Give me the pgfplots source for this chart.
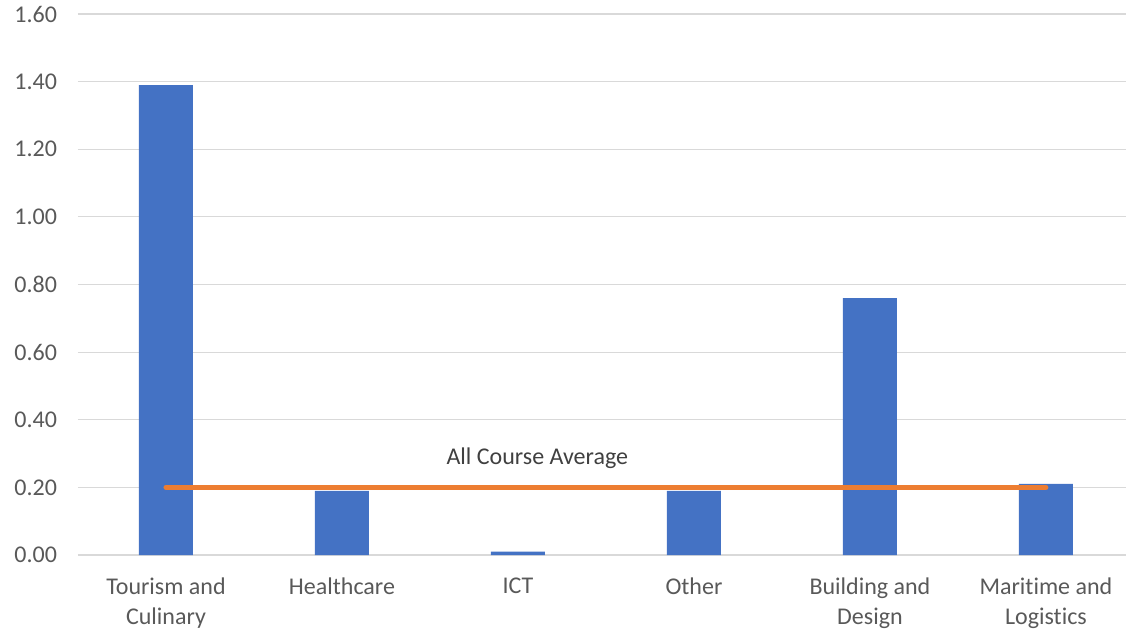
\documentclass[border=0pt]{standalone}
\usepackage{fontspec}
\setmainfont[Ligatures={NoCommon}]{Carlito}
\usepackage{pgfplots}
\pgfplotsset{compat=1.18}
\definecolor{barblue}{RGB}{68,114,196}
\definecolor{avgorange}{RGB}{237,125,49}
\definecolor{gridgray}{RGB}{217,217,217}
\definecolor{labelgray}{RGB}{89,89,89}

\begin{document}
\begin{tikzpicture}
\begin{axis}[
    name=ax,
    scale only axis,
    width=524pt,
    height=270.5pt,
    ymin=0, ymax=1.6,
    xmin=-0.5, xmax=5.455,
    ytick={0,0.2,...,1.6},
    xtick={0,1,2,3,4,5},
    xticklabels={Tourism and\\Culinary, Healthcare, ICT, Other, Building and\\Design, Maritime and\\Logistics},
    xticklabel style={align=center, font=\fontsize{12}{15}\selectfont, text=labelgray, yshift=-8pt},
    yticklabel style={font=\fontsize{12}{15}\selectfont, text=labelgray, xshift=-7pt},
    /pgf/number format/assume math mode=true,
    yticklabel={\pgfmathprintnumber[fixed,fixed zerofill,precision=2]{\tick}},
    major tick length=0pt,
    ymajorgrids=true,
    grid style={gridgray, line width=0.6pt},
    axis x line*=bottom,
    axis y line*=left,
    y axis line style={draw=none},
    x axis line style={gridgray, line width=0.8pt, -},
    clip=false,
]
\addplot[ybar, bar width=27pt, fill=barblue, draw=none] coordinates {
    (0,1.39)
    (1,0.19)
    (2,0.01)
    (3,0.19)
    (4,0.76)
    (5,0.21)
};
\addplot[avgorange, line width=2.5pt, line cap=round] coordinates {
    (0,0.20)
    (5,0.20)
};
\node[font=\fontsize{12}{15}\selectfont, text=black!75] at (axis cs:2.11,0.287) {All Course Average};
\end{axis}
\pgfresetboundingbox
\path ([shift={(-39pt,-37.5pt)}]ax.south west) rectangle ([shift={(0pt,7pt)}]ax.north east);
\end{tikzpicture}
\end{document}
